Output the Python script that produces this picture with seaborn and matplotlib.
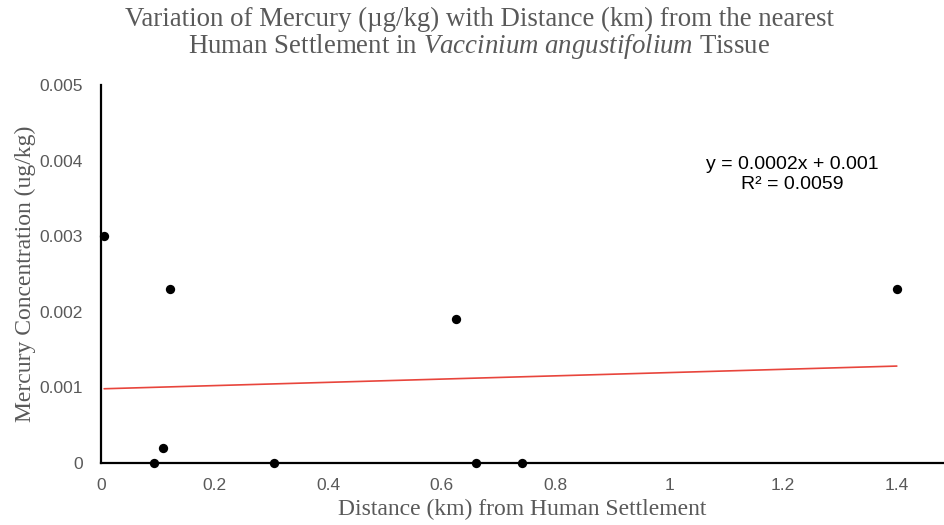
import matplotlib
matplotlib.use("Agg")
import matplotlib.pyplot as plt
import seaborn as sns
import pandas as pd

# Data
distance_km = [0.006, 0.093, 0.109, 0.121, 0.304, 0.624, 0.660, 0.740, 1.400]
mercury_ugkg = [0.0030, 0.0000, 0.0002, 0.0023, 0.0000, 0.0019, 0.0000, 0.0000, 0.0023]
x_ticks = [0, 0.2, 0.4, 0.6, 0.8, 1.0, 1.2, 1.4]
x_tick_labels = ["0", "0.2", "0.4", "0.6", "0.8", "1", "1.2", "1.4"]
y_ticks = [0, 0.001, 0.002, 0.003, 0.004, 0.005]
y_tick_labels = ["0", "0.001", "0.002", "0.003", "0.004", "0.005"]

df = pd.DataFrame({"distance": distance_km, "mercury": mercury_ugkg})

sns.set_theme(style="white")
plt.rcParams["font.family"] = ["Liberation Sans", "DejaVu Sans"]
plt.rcParams["mathtext.fontset"] = "custom"
plt.rcParams["mathtext.rm"] = "Liberation Serif"
plt.rcParams["mathtext.it"] = "Liberation Serif:italic"

fig = plt.figure(figsize=(9.44, 5.25), dpi=100)
ax = fig.add_axes([0.1067, 0.1181, 0.8933, 0.7200])

grey = "#595959"

sns.regplot(data=df, x="distance", y="mercury", ax=ax, scatter=False, ci=None,
            truncate=True, color="#E8453C", line_kws={"linewidth": 1.2})
sns.scatterplot(data=df, x="distance", y="mercury", ax=ax, color="black",
                s=45, edgecolor="black", linewidth=0, zorder=5, clip_on=False)

ax.set_xlim(0, 1.483)
ax.set_ylim(0, 0.005)
ax.set_xticks(x_ticks)
ax.set_xticklabels(x_tick_labels)
ax.set_yticks(y_ticks)
ax.set_yticklabels(y_tick_labels)
ax.tick_params(axis="x", length=0, labelsize=12.5, labelcolor=grey, pad=11)
ax.tick_params(axis="y", length=0, labelsize=12.5, labelcolor=grey, pad=13)

for side in ["top", "right"]:
    ax.spines[side].set_visible(False)
for side in ["left", "bottom"]:
    ax.spines[side].set_color("black")
    ax.spines[side].set_linewidth(1.6)

serif = ["Liberation Serif", "DejaVu Serif"]
ax.set_xlabel("Distance (km) from Human Settlement", fontfamily=serif,
              fontsize=17, color=grey, labelpad=4)
ax.set_ylabel("Mercury Concentration (ug/kg)", fontfamily=serif,
              fontsize=17, color=grey, labelpad=2)

fig.text(0.508, 0.963, "Variation of Mercury (µg/kg) with Distance (km) from the nearest",
         ha="center", va="center", fontfamily=serif, fontsize=19.4, color=grey)
fig.text(0.508, 0.912,
         r"Human Settlement in $\mathit{Vaccinium\ angustifolium}$ Tissue",
         ha="center", va="center", fontfamily=serif, fontsize=19.4, color=grey)

ax.text(1.216, 0.00382, "y = 0.0002x + 0.001\nR² = 0.0059", ha="center", va="center",
        fontsize=14, color="black", linespacing=1.2)

fig.savefig("out.png", dpi=100)
